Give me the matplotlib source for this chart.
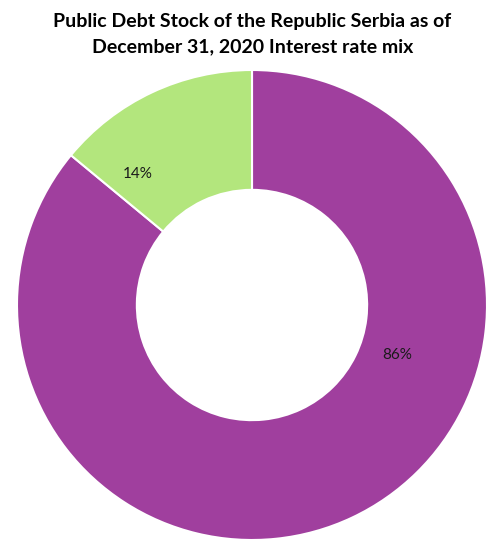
import matplotlib
matplotlib.use("Agg")
import matplotlib.pyplot as plt

categories = ["Fixed", "Variable"]
values = [86, 14]
labels = ["86%", "14%"]
colors = ["#A03F9E", "#B3E67D"]

W, H = 492, 543
fig = plt.figure(figsize=(W / 100, H / 100), dpi=100)
cx, cy, r = 252, 305, 235
ax = fig.add_axes([(cx - r) / W, (H - cy - r) / H, 2 * r / W, 2 * r / H])
ax.pie(values, colors=colors, startangle=90, counterclock=False, radius=1.0,
       wedgeprops=dict(width=0.51, edgecolor="white", linewidth=1.5))
ax.set_xlim(-1, 1)
ax.set_ylim(-1, 1)
ax.set_aspect("equal")
ax.axis("off")

label_pos = [(0.617, -0.213), (-0.485, 0.557)]
for lab, (x, y) in zip(labels, label_pos):
    ax.text(x, y, lab, ha="center", va="center", fontsize=11,
            family="Lato", color="#1a1a1a")

fig.text(0.5125, 1 - 22 / H, "Public Debt Stock of the Republic Serbia as of",
         ha="center", va="center", fontsize=14, fontweight="bold", family="Lato")
fig.text(0.5125, 1 - 47 / H, "December 31, 2020 Interest rate mix",
         ha="center", va="center", fontsize=14, fontweight="bold", family="Lato")

fig.savefig("out.png", dpi=100)
